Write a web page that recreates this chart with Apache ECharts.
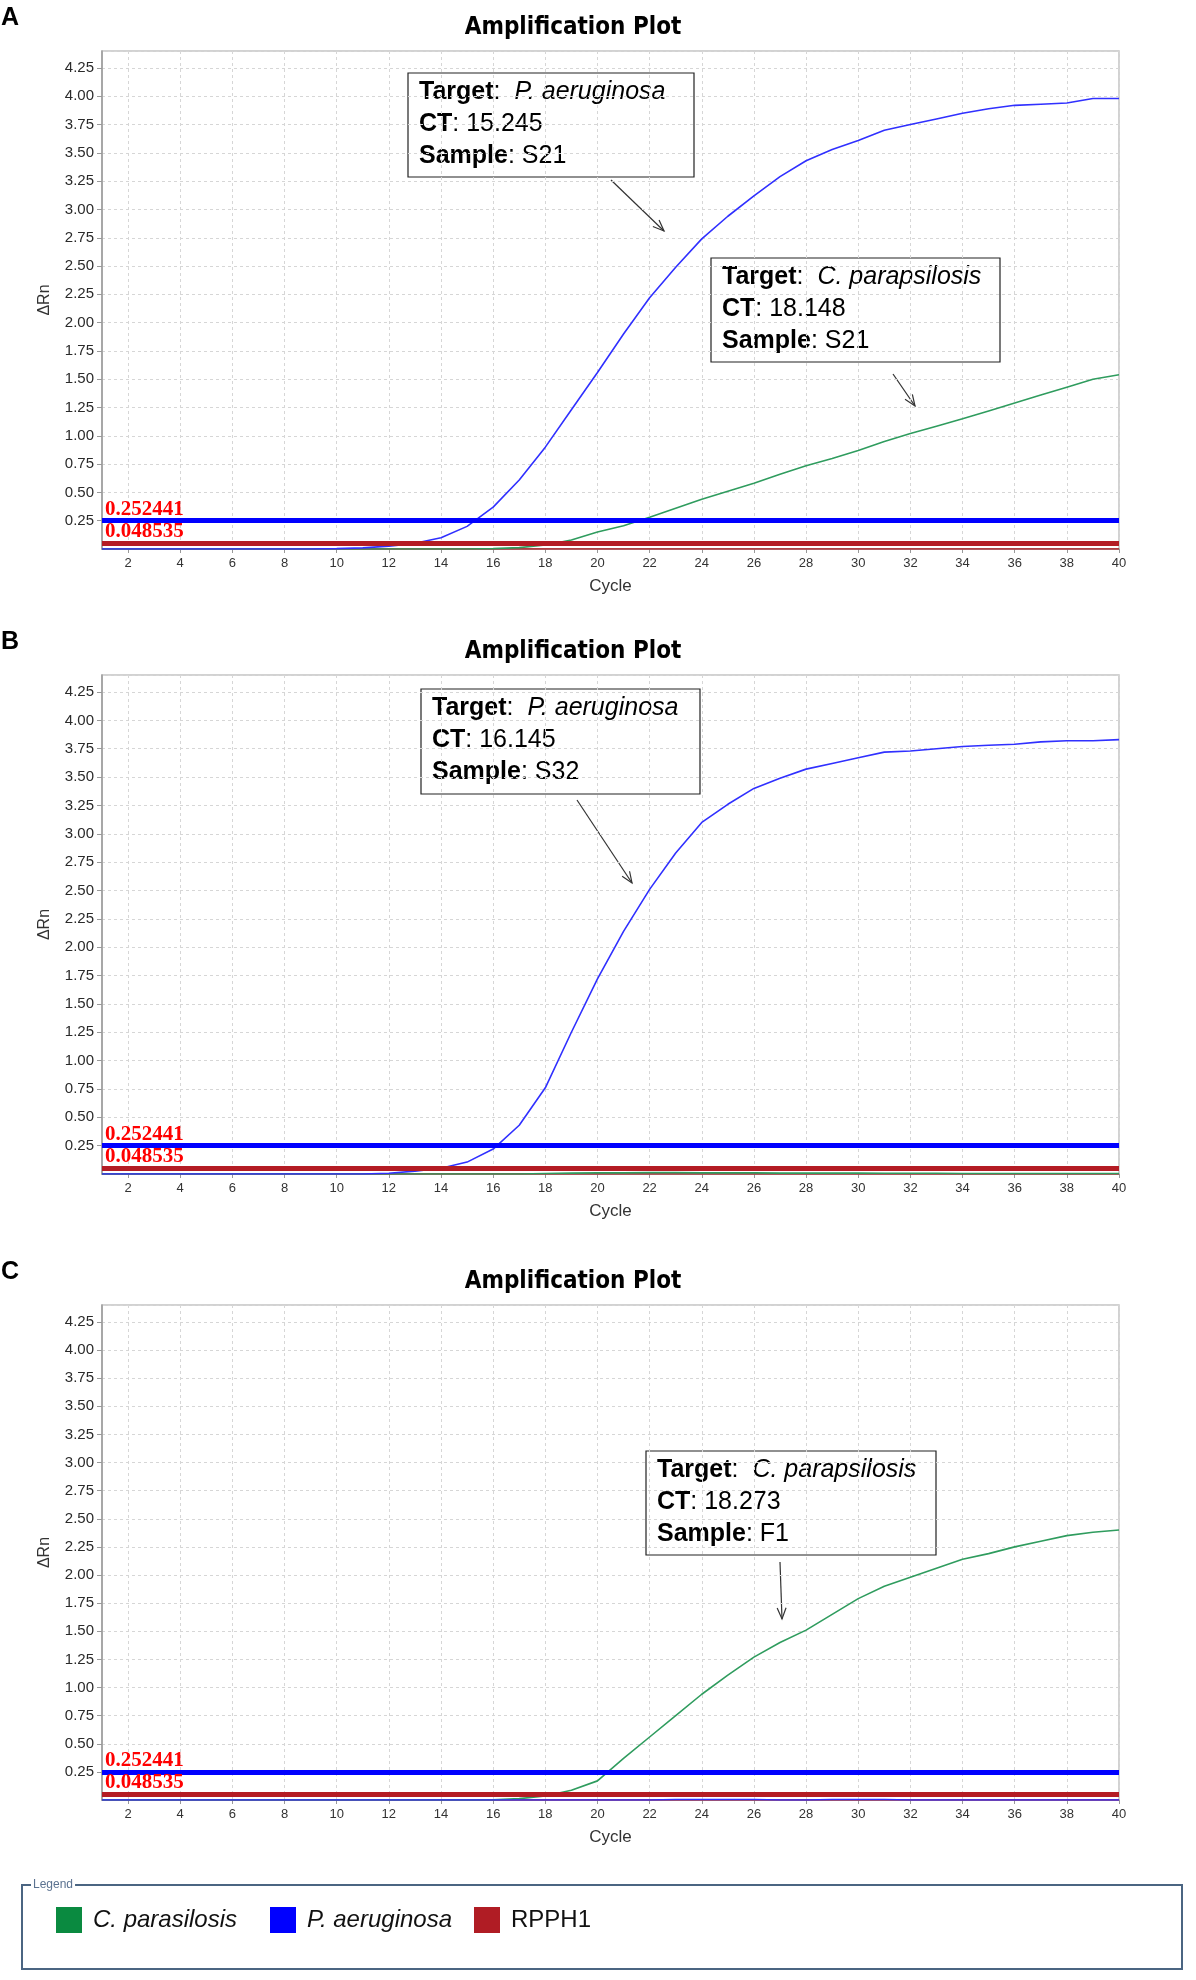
<!DOCTYPE html>
<html>
<head>
<meta charset="utf-8">
<script src="https://cdn.jsdelivr.net/npm/echarts@6/dist/echarts.min.js"></script>
<style>
  body { margin: 0; background: #fff; }
  #main { width: 1196px; height: 1980px; }
</style>
</head>
<body>
<div id="main"></div>
<script>
// cycles on the x axis
var cycles = ['1','2','3','4','5','6','7','8','9','10','11','12','13','14','15','16','17','18','19','20',
              '21','22','23','24','25','26','27','28','29','30','31','32','33','34','35','36','37','38','39','40'];

// thresholds: P. aeruginosa, RPPH1
var thresholds = [0.252441, 0.048535];
var thresholdLabels = ['0.252441', '0.048535'];

// panel A (sample S21)
var aPa = [0,0,0,0,0,0,0,0,0,0.003,0.01,0.025,0.05,0.10,0.20,0.37,0.61,0.90,1.23,1.56,
           1.90,2.22,2.49,2.74,2.94,3.12,3.29,3.43,3.53,3.61,3.70,3.75,3.80,3.85,3.89,3.92,3.93,3.94,3.98,3.98];
var aCp = [0,0,0,0,0,0,0,0,0,0,0,0,0,0,0,0.003,0.012,0.035,0.08,0.15,
           0.205,0.28,0.36,0.44,0.51,0.58,0.66,0.735,0.80,0.87,0.95,1.02,1.085,1.15,1.22,1.29,1.36,1.43,1.50,1.54];
var aRp = [0,0,0,0,0,0,0,0,0,0,0,0,0,0,0,0,0,0,0,0,
           0,0,0,0,0,0,0,0,0,0,0,0,0,0,0,0,0,0,0,0];

// panel B (sample S32)
var bPa = [0,0,0,0,0,0,0,0,0,0,0,0.007,0.025,0.05,0.105,0.22,0.43,0.76,1.25,1.72,
           2.14,2.51,2.83,3.10,3.26,3.40,3.49,3.57,3.62,3.67,3.72,3.73,3.75,3.77,3.78,3.79,3.81,3.82,3.82,3.83];
var bCp = [0,0,0,0,0,0,0,0,0,0,0,0,0,0,0,0,0,0.005,0.008,0.01,
           0.01,0.012,0.012,0.01,0.01,0.01,0.008,0.008,0.008,0.008,0.006,0.006,0.006,0.005,0.005,0.005,0.005,0.005,0.005,0.005];
var bRp = [0,0,0,0,0,0,0,0,0,0,0,0,0,0,0,0,0,0,0,0,
           0,0,0,0,0,0,0,0,0,0,0,0,0,0,0,0,0,0,0,0];

// panel C (sample F1)
var cPa = [0,0,0,0,0,0,0,0,0,0,0,0,0,0,0,0,0,0,0,0,
           0,0,0.004,0.005,0.005,0.004,0,0,0.004,0.005,0.004,0,0,0,0,0,0,0,0,0];
var cCp = [0,0,0,0,0,0,0,0,0,0,0,0,0,0,0,0.002,0.012,0.036,0.087,0.17,
           0.37,0.56,0.75,0.94,1.11,1.27,1.40,1.51,1.65,1.79,1.90,1.98,2.06,2.14,2.19,2.25,2.30,2.35,2.38,2.40];
var cRp = [0,0,0,0,0,0,0,0,0,0,0,0,0,0,0,0,0,0,0,0,
           0,0,0,0,0,0,0,0,0,0,0,0,0,0,0,0,0,0,0,0];

var panels = [
  { letter: 'A', top: 51,   height: 498, cp: aCp, pa: aPa, rp: aRp },
  { letter: 'B', top: 675,  height: 499, cp: bCp, pa: bPa, rp: bRp },
  { letter: 'C', top: 1305, height: 495, cp: cCp, pa: cPa, rp: cRp }
];

var SANS = '"Liberation Sans", Arial, sans-serif';
var SERIF = '"Liberation Serif", "Times New Roman", serif';
var GREEN = '#2f9c5e', BLUE = '#3030ff', RED = '#b41c24';

var myChart = echarts.init(document.getElementById('main'));

var grids = [], xAxes = [], yAxes = [], series = [], graphics = [];

function evenOnly(index) { return index % 2 === 1; }

function arrow(x1, y1, x2, y2) {
  var a = Math.atan2(y2 - y1, x2 - x1), L = 12, w = 0.38;
  return {
    type: 'group',
    children: [
      { type: 'line', shape: { x1: x1, y1: y1, x2: x2, y2: y2 }, style: { stroke: '#333', lineWidth: 1.2 } },
      { type: 'polyline', shape: { points: [
          [x2 - L * Math.cos(a - w), y2 - L * Math.sin(a - w)], [x2, y2],
          [x2 - L * Math.cos(a + w), y2 - L * Math.sin(a + w)]] },
        style: { stroke: '#333', fill: null, lineWidth: 1.2 } }
    ]
  };
}

var richNote = {
  b: { fontFamily: SANS, fontSize: 25, fontWeight: 'bold', lineHeight: 32, fill: '#000' },
  r: { fontFamily: SANS, fontSize: 25, lineHeight: 32, fill: '#000' },
  i: { fontFamily: SANS, fontSize: 25, fontStyle: 'italic', lineHeight: 32, fill: '#000' }
};

function note(x, y, w, h, target, ct, sample) {
  return {
    type: 'group',
    children: [
      { type: 'rect', shape: { x: x, y: y, width: w, height: h }, style: { fill: '#fff', stroke: '#222', lineWidth: 1.2 } },
      { type: 'text', x: x + 11, y: y + 3, style: {
          text: '{b|Target}{r|:  }{i|' + target + '}\n{b|CT}{r|: ' + ct + '}\n{b|Sample}{r|: ' + sample + '}',
          rich: richNote, verticalAlign: 'top', align: 'left' } }
    ]
  };
}

function threshold(value, label, color) {
  return {
    silent: true, symbol: ['none', 'none'], z: 6,
    lineStyle: { color: color, width: 5, type: 'solid' },
    label: { show: true, position: 'insideStartTop', distance: [3, 1], formatter: label,
             color: '#ff0000', fontFamily: SERIF, fontWeight: 'bold', fontSize: 21 },
    data: [{ yAxis: value }]
  };
}

panels.forEach(function (p, k) {
  grids.push({ left: 102, top: p.top, width: 1017, height: p.height, show: true,
               borderColor: '#c4c4c4', borderWidth: 1.5, backgroundColor: '#fff' });
  xAxes.push({
    type: 'category', gridIndex: k, data: cycles, boundaryGap: false,
    name: 'Cycle', nameLocation: 'middle', nameGap: 29,
    nameTextStyle: { fontFamily: SANS, fontSize: 17, color: '#333' },
    axisLine: { lineStyle: { color: '#999', width: 1.5 } },
    axisTick: { show: true, length: 4, interval: evenOnly, lineStyle: { color: '#999' } },
    axisLabel: { interval: evenOnly, margin: 8, fontFamily: SANS, fontSize: 13, color: '#333' },
    splitLine: { show: true, interval: evenOnly, lineStyle: { color: '#d6d6d6', type: [3, 3] } }
  });
  yAxes.push({
    type: 'value', gridIndex: k, min: 0, max: 4.4, interval: 0.25,
    name: 'ΔRn', nameLocation: 'middle', nameGap: 49, nameRotate: 90,
    nameTextStyle: { fontFamily: SANS, fontSize: 16, color: '#333' },
    axisLine: { show: true, lineStyle: { color: '#999', width: 1.5 } },
    axisTick: { show: true, length: 5, lineStyle: { color: '#999' } },
    axisLabel: { showMinLabel: false, showMaxLabel: false, margin: 8, fontFamily: SANS, fontSize: 15, color: '#2a2a2a',
                 formatter: function (v) { return v.toFixed(2); } },
    splitLine: { show: true, lineStyle: { color: '#d6d6d6', type: [3, 3] } }
  });

  var lineBase = { type: 'line', xAxisIndex: k, yAxisIndex: k, showSymbol: false, symbol: 'none',
                   smooth: false, silent: true, z: 2 };
  series.push(Object.assign({}, lineBase, { name: 'RPPH1', data: p.rp,
    lineStyle: { color: RED, width: 1.5 }, itemStyle: { color: RED },
    markLine: threshold(thresholds[1], thresholdLabels[1], RED) }));
  series.push(Object.assign({}, lineBase, { name: 'C. parasilosis', data: p.cp,
    lineStyle: { color: GREEN, width: 1.6 }, itemStyle: { color: GREEN } }));
  series.push(Object.assign({}, lineBase, { name: 'P. aeruginosa', data: p.pa,
    lineStyle: { color: BLUE, width: 1.6 }, itemStyle: { color: BLUE },
    markLine: threshold(thresholds[0], thresholdLabels[0], '#0000ff') }));

  graphics.push({ type: 'text', x: 1, y: p.top - 33, style: { text: p.letter, fontFamily: SANS, fontSize: 25,
                  fontWeight: 'bold', fill: '#000', verticalAlign: 'middle', align: 'left' } });
  graphics.push({ type: 'text', x: 573, y: p.top - 23, style: { text: 'Amplification Plot',
                  fontFamily: '"DejaVu Sans Condensed", "DejaVu Sans", sans-serif', fontSize: 24, fontWeight: 'bold', fill: '#000',
                  verticalAlign: 'middle', align: 'center' } });
});

// annotation boxes and arrows
graphics.push(note(408, 73, 286, 104, 'P. aeruginosa', '15.245', 'S21'));
graphics.push(arrow(611, 180, 664, 231));
graphics.push(note(711, 258, 289, 104, 'C. parapsilosis', '18.148', 'S21'));
graphics.push(arrow(893, 374, 915, 406));
graphics.push(note(421, 689, 279, 105, 'P. aeruginosa', '16.145', 'S32'));
graphics.push(arrow(577, 800, 632, 883));
graphics.push(note(646, 1451, 290, 104, 'C. parapsilosis', '18.273', 'F1'));
graphics.push(arrow(780, 1562, 782, 1619));

// legend frame
graphics.push({ type: 'rect', shape: { x: 22, y: 1885, width: 1160, height: 84 },
                style: { fill: null, stroke: '#4b6582', lineWidth: 2 } });
graphics.push({ type: 'text', x: 31, y: 1885, style: { text: 'Legend', fontFamily: SANS, fontSize: 12, fill: '#5b7290',
                backgroundColor: '#fff', padding: [0, 2], verticalAlign: 'middle', align: 'left' } });

function legendAt(left, name, iconColor, italic) {
  return {
    left: left, top: 1907, orient: 'horizontal', selectedMode: false, icon: 'rect',
    itemWidth: 26, itemHeight: 26, padding: 0,
    textStyle: { fontFamily: SANS, fontSize: 24, color: '#111', fontStyle: italic ? 'italic' : 'normal', padding: [0, 0, 0, 6] },
    data: [{ name: name, itemStyle: { color: iconColor } }]
  };
}

var option = {
  animation: false,
  backgroundColor: '#fff',
  grid: grids,
  xAxis: xAxes,
  yAxis: yAxes,
  series: series,
  legend: [
    legendAt(56, 'C. parasilosis', '#0a8a40', true),
    legendAt(270, 'P. aeruginosa', '#0000ff', true),
    legendAt(474, 'RPPH1', '#b01c24', false)
  ],
  graphic: graphics
};

myChart.setOption(option);
window.addEventListener('resize', function () {
  myChart.resize();
});
</script>
</body>
</html>
